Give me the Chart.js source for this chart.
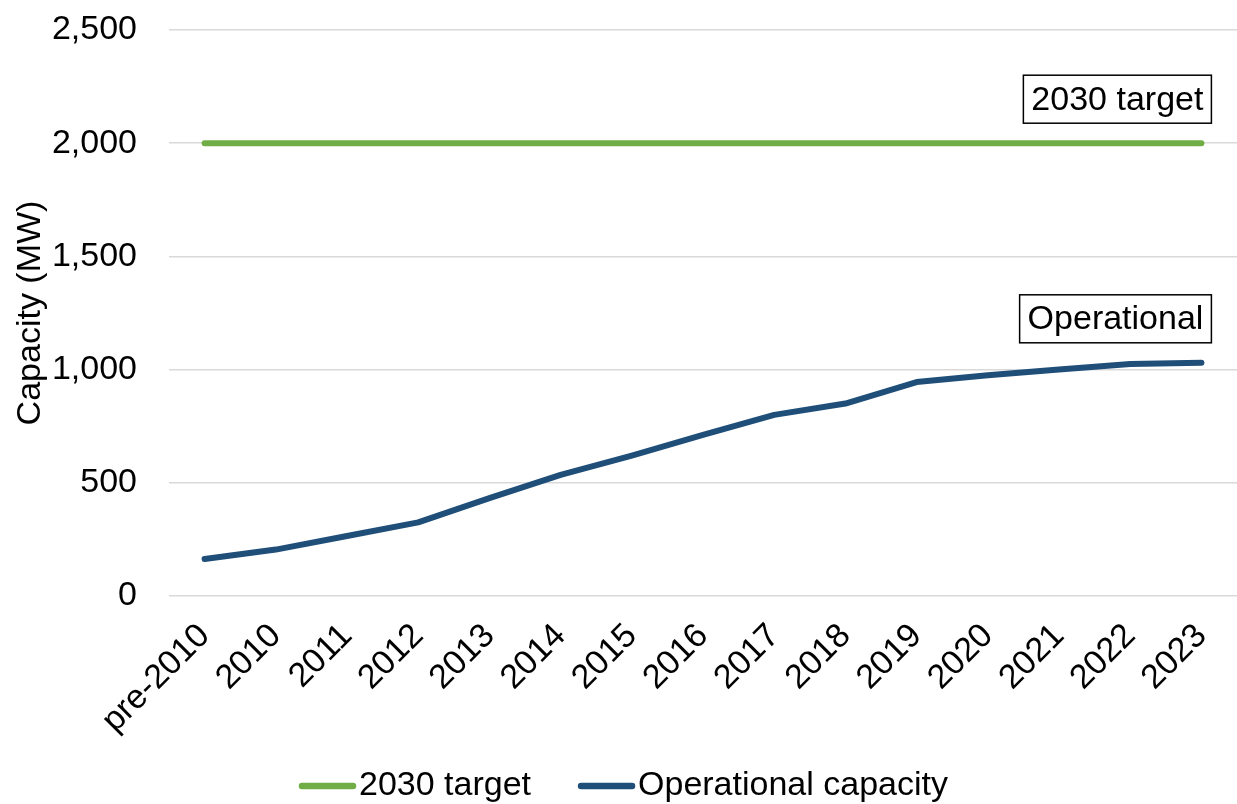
<!DOCTYPE html>
<html>
<head>
<meta charset="utf-8">
<title>Capacity (MW)</title>
<script src="https://cdn.jsdelivr.net/npm/chart.js@4.4.1/dist/chart.umd.min.js"></script>
<style>
  html, body { margin: 0; padding: 0; background: #ffffff; }
  #wrap { width: 1237px; height: 804px; position: relative; }
</style>
</head>
<body>
<div id="wrap"><canvas id="chart"></canvas></div>
<script>
// Categories along the x axis
const years = ['pre-2010', '2010', '2011', '2012', '2013', '2014', '2015', '2016',
               '2017', '2018', '2019', '2020', '2021', '2022', '2023'];

// 2030 target capacity (MW)
const targetCapacity = [2000, 2000, 2000, 2000, 2000, 2000, 2000, 2000,
                        2000, 2000, 2000, 2000, 2000, 2000, 2000];

// Cumulative operational capacity (MW)
const operationalCapacity = [163, 205, 265, 325, 432, 535, 620, 712,
                             800, 850, 945, 975, 1000, 1025, 1030];

// Y axis ticks (MW)
const yTicks = [0, 500, 1000, 1500, 2000, 2500];

// Legend names and end-of-line labels
const seriesNames = ['2030 target', 'Operational capacity'];
const endLabels = ['2030 target', 'Operational'];

const FONT = '"Liberation Sans", Arial, Helvetica, sans-serif';
const FONT_SIZE = 34;
const GREEN = '#70AD47';
const NAVY = '#1F4E79';

// Boxed label sitting just above the last point of each line
const endLabelPlugin = {
  id: 'endLabels',
  afterDatasetsDraw(chart) {
    const ctx = chart.ctx;
    ctx.save();
    ctx.font = FONT_SIZE + 'px ' + FONT;
    chart.data.datasets.forEach((ds, i) => {
      const meta = chart.getDatasetMeta(i);
      const last = meta.data[meta.data.length - 1];
      const text = endLabels[i];
      const w = ctx.measureText(text).width;
      const padX = 8, boxH = 48;
      const right = last.x + 10;
      const bottom = last.y - 20;
      const left = right - w - 2 * padX;
      const top = bottom - boxH;
      ctx.fillStyle = '#ffffff';
      ctx.fillRect(left, top, right - left, boxH);
      ctx.strokeStyle = '#000000';
      ctx.lineWidth = 1.5;
      ctx.strokeRect(left, top, right - left, boxH);
      ctx.fillStyle = '#000000';
      ctx.textAlign = 'left';
      ctx.textBaseline = 'middle';
      ctx.fillText(text, left + padX, top + boxH / 2 + 1);
    });
    ctx.restore();
  }
};

// Bottom legend: short line sample followed closely by the series name
const lineLegendPlugin = {
  id: 'lineLegend',
  afterDraw(chart) {
    const ctx = chart.ctx;
    ctx.save();
    ctx.font = FONT_SIZE + 'px ' + FONT;
    const sampleW = 57, gap = 3, itemGap = 47;
    const items = chart.data.datasets.map(ds => ({
      label: ds.label,
      color: ds.borderColor,
      w: sampleW + gap + ctx.measureText(ds.label).width
    }));
    const total = items.reduce((s, it) => s + it.w, 0) + itemGap * (items.length - 1);
    let x = chart.width / 2 - total / 2 + 5;
    const y = 786;
    items.forEach(it => {
      ctx.strokeStyle = it.color;
      ctx.lineWidth = 6.5;
      ctx.lineCap = 'round';
      ctx.beginPath();
      ctx.moveTo(x + 3, y);
      ctx.lineTo(x + sampleW - 3, y);
      ctx.stroke();
      ctx.fillStyle = '#000000';
      ctx.textAlign = 'left';
      ctx.textBaseline = 'middle';
      ctx.fillText(it.label, x + sampleW + gap, y);
      x += it.w + itemGap;
    });
    ctx.restore();
  }
};

new Chart(document.getElementById('chart'), {
  type: 'line',
  data: {
    labels: years,
    datasets: [
      {
        label: seriesNames[0],
        data: targetCapacity,
        borderColor: GREEN,
        backgroundColor: GREEN,
        borderWidth: 6,
        borderCapStyle: 'round',
        borderJoinStyle: 'round',
        pointRadius: 0,
        tension: 0
      },
      {
        label: seriesNames[1],
        data: operationalCapacity,
        borderColor: NAVY,
        backgroundColor: NAVY,
        borderWidth: 6,
        borderCapStyle: 'round',
        borderJoinStyle: 'round',
        pointRadius: 0,
        tension: 0
      }
    ]
  },
  options: {
    responsive: true,
    maintainAspectRatio: false,
    animation: false,
    devicePixelRatio: 1,
    layout: { padding: { left: 0, right: 0, top: 30, bottom: 58 } },
    plugins: {
      legend: { display: false },
      tooltip: { enabled: false }
    },
    scales: {
      x: {
        offset: true,
        grid: { display: false },
        border: { display: false },
        ticks: {
          color: '#000000',
          font: { family: FONT, size: FONT_SIZE },
          minRotation: 45,
          maxRotation: 45,
          autoSkip: false,
          padding: 12
        },
        afterFit(axis) {
          axis.height = 150;
          axis.paddingLeft = 0;
          axis.paddingRight = 0;
        }
      },
      y: {
        min: 0,
        max: 2500,
        afterBuildTicks(axis) { axis.ticks = yTicks.map(v => ({ value: v })); },
        grid: { color: '#D9D9D9', lineWidth: 1.5, drawTicks: false },
        border: { display: false },
        ticks: {
          color: '#000000',
          font: { family: FONT, size: FONT_SIZE },
          padding: 32,
          callback: v => Number(v).toLocaleString('en-US')
        },
        title: {
          display: true,
          text: 'Capacity (MW)',
          color: '#000000',
          font: { family: FONT, size: FONT_SIZE },
          padding: { top: 10, bottom: 0 }
        },
        afterFit(axis) {
          axis.width = 169;
          axis.paddingTop = 0;
          axis.paddingBottom = 0;
        }
      }
    }
  },
  plugins: [endLabelPlugin, lineLegendPlugin]
});
</script>
</body>
</html>
